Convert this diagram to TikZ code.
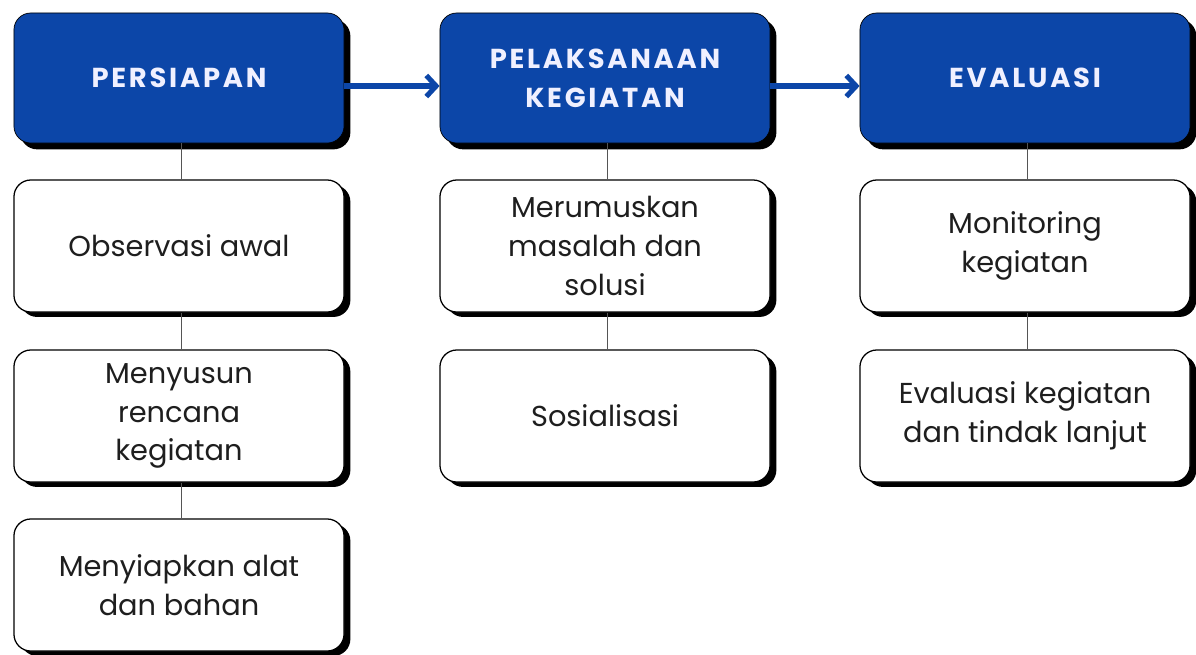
\documentclass[tikz,border=0pt]{standalone}
\usepackage{fontspec}
\setmainfont{Poppins}
\newfontfamily\headfont[LetterSpace=10]{Poppins}
\usetikzlibrary{shadows,arrows.meta}

\definecolor{headblue}{RGB}{12,70,168}
\definecolor{linegray}{RGB}{85,85,85}
\definecolor{textgray}{RGB}{30,30,30}

\tikzset{
  headbox/.style={rectangle, rounded corners=12pt, fill=headblue, draw=black, line width=0.5pt,
    minimum width=8.25cm, minimum height=3.25cm, align=center, text=white!94!blue,
    font=\headfont\bfseries\fontsize{19.5}{28}\selectfont,
    drop shadow={shadow xshift=4.5pt, shadow yshift=-4.5pt, opacity=1, fill=black}},
  stepbox/.style={rectangle, rounded corners=12pt, fill=white, draw=black, line width=0.9pt,
    minimum width=8.25cm, minimum height=3.3cm, align=center, text=textgray,
    font=\fontsize{20.5}{27.5}\selectfont,
    drop shadow={shadow xshift=4.5pt, shadow yshift=-3.5pt, opacity=1, fill=black}},
  link/.style={draw=linegray, line width=0.9pt},
  flow/.style={draw=headblue, line width=3.6pt, -{Straight Barb[length=7pt,width=15pt]}}
}

\begin{document}
\begin{tikzpicture}[x=0.025cm, y=-0.025cm]
  \useasboundingbox (0,0) rectangle (1196,654);

  % Headers
  \node[headbox] (persiapan) at (179,78) {PERSIAPAN};
  \node[headbox] (pelaksanaan) at (605,78) {PELAKSANAAN\\KEGIATAN};
  \node[headbox] (evaluasi) at (1025,78) {EVALUASI};

  % Steps under each header
  \node[stepbox] (observasi) at (179,246) {Observasi awal};
  \node[stepbox] (rencana) at (179,416) {Menyusun\\rencana\\kegiatan};
  \node[stepbox] (alat) at (179,585) {Menyiapkan alat\\dan bahan};

  \node[stepbox] (masalah) at (605,246) {Merumuskan\\masalah dan\\solusi};
  \node[stepbox] (sosialisasi) at (605,416) {Sosialisasi};

  \node[stepbox] (monitoring) at (1025,246) {Monitoring\\kegiatan};
  \node[stepbox] (evalkeg) at (1025,416) {Evaluasi kegiatan\\dan tindak lanjut};

  % Vertical links
  \foreach \a/\b in {persiapan/observasi, observasi/rencana, rencana/alat,
                     pelaksanaan/masalah, masalah/sosialisasi,
                     evaluasi/monitoring, monitoring/evalkeg} {
    \draw[link] ([xshift=2pt]\a.south) -- ([xshift=2pt]\b.north);
  }

  % Flow between stages
  \draw[flow] ([yshift=-0.2cm]persiapan.east) -- ([yshift=-0.2cm]pelaksanaan.west);
  \draw[flow] ([yshift=-0.2cm]pelaksanaan.east) -- ([yshift=-0.2cm]evaluasi.west);
\end{tikzpicture}
\end{document}
